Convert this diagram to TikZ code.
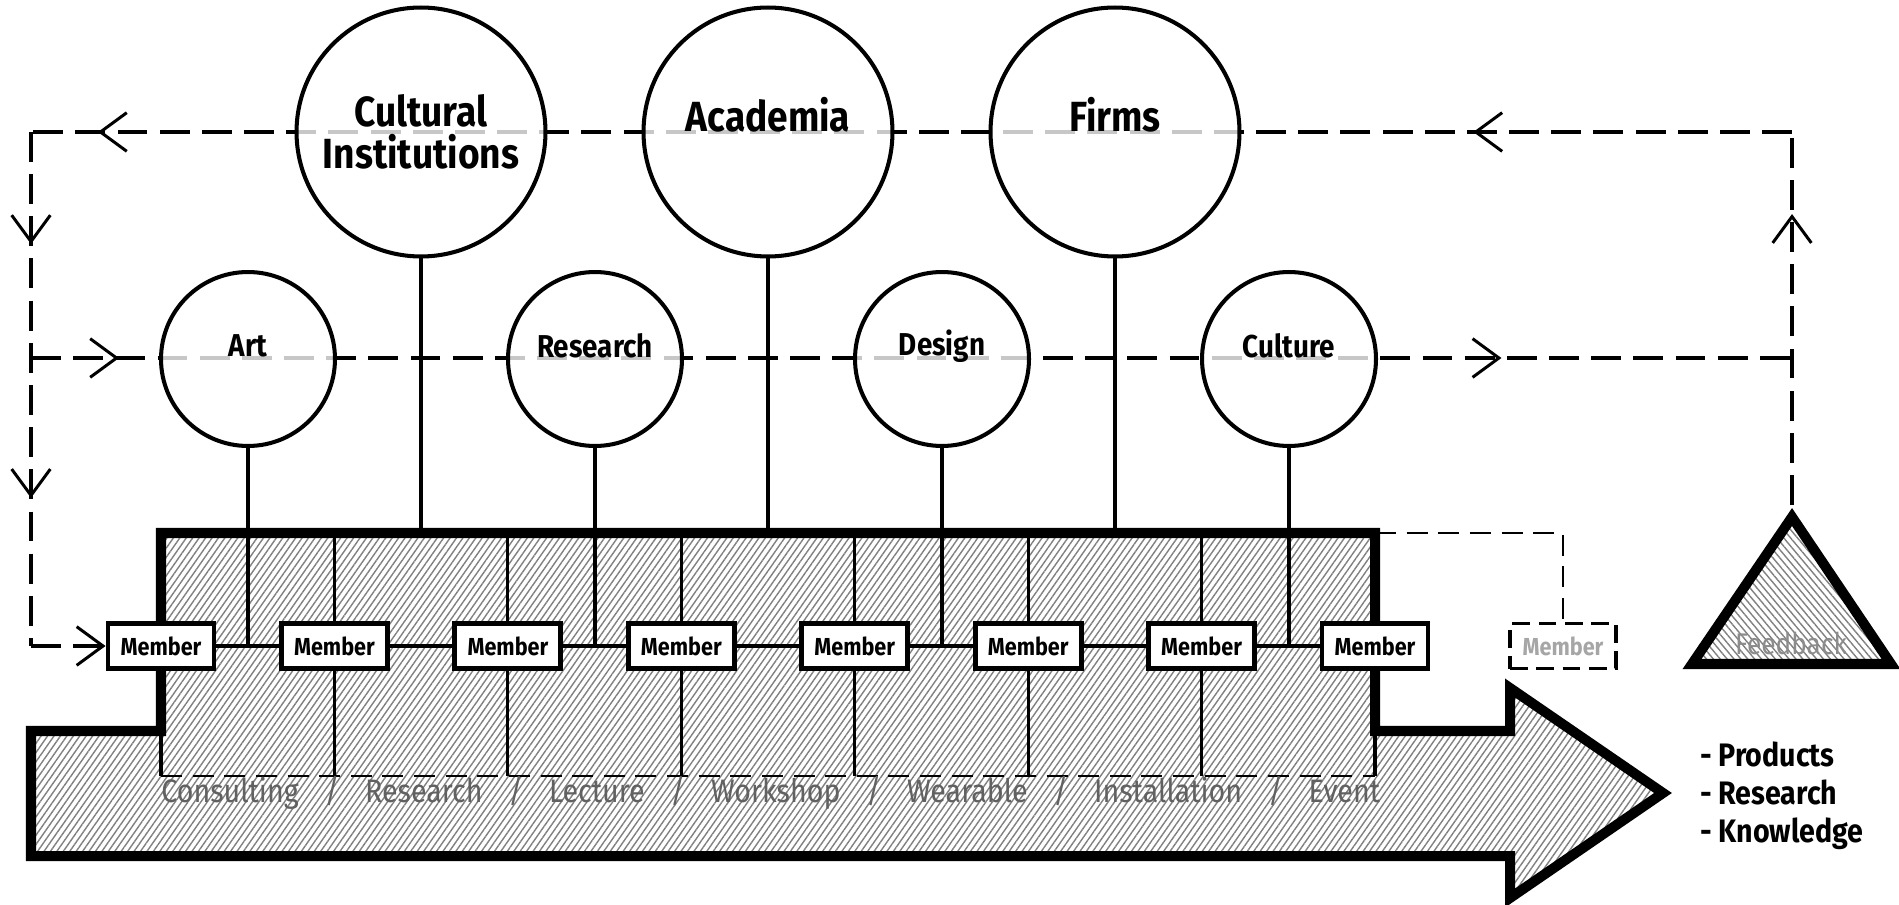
\documentclass[tikz,border=0pt]{standalone}
\usepackage{fontspec}
\usepackage{tikz}
\usetikzlibrary{arrows.meta,decorations.markings,patterns.meta}
\newfontfamily\diafont{Fira Sans}[FakeStretch=0.88]

\begin{document}
\begin{tikzpicture}[x=0.02cm, y=-0.02cm,
      >={Straight Barb[length=15pt,width=22pt,line width=1.7pt]},
      hatch/.style={pattern={Lines[angle=55,distance=3pt,line width=0.8pt]}, pattern color=black!50},
      flowline/.style={line width=1.8pt, dash pattern=on 17pt off 7pt},
      flowtip/.style={postaction={decorate, decoration={markings, mark=at position #1 with {\arrow{>}}}}},
      bigcirc/.style={circle, draw, line width=2.3pt, fill=white, fill opacity=0.78, minimum size=4.98cm, inner sep=0pt},
      smallcirc/.style={circle, draw, line width=2.3pt, fill=white, fill opacity=0.78, minimum size=3.48cm, inner sep=0pt},
      biglabel/.style={font=\diafont\bfseries\fontsize{24}{24}\selectfont, align=center, fill opacity=1, text opacity=1},
      smalllabel/.style={font=\diafont\bfseries\fontsize{18}{20}\selectfont, fill opacity=1, text opacity=1},
      memberbox/.style={draw, line width=2.8pt, fill=white, minimum width=2.12cm, minimum height=0.9cm, inner sep=0pt, font=\diafont\bfseries\fontsize{14}{15}\selectfont},
      stem/.style={line width=1.8pt},
      linkline/.style={line width=2.4pt}]
      \useasboundingbox (0,0) rectangle (1899,905);

      \draw [line width=5.7pt, hatch, line join=miter] (31,731) -- (161,731) -- (161,533) -- (1375,533) -- (1375,731) -- (1510,731) -- (1510,688) -- (1663,793) -- (1510,898) -- (1510,856) -- (31,856) -- cycle;
      \coordinate (boxtl) at (161,533);
      \coordinate (boxtr) at (1375,533);
      \coordinate (boxbl) at (161,776);
      \coordinate (boxbr) at (1375,776);
      \draw [line width=2pt] (161,731) -- (boxbl);
      \draw [line width=2pt] (1375,731) -- (boxbr);
      \draw [line width=1.4pt, dash pattern=on 12pt off 6pt] (boxbl) -- (boxbr);

      \coordinate (tl) at (31,132);
      \coordinate (tr) at (1792,132);
      \coordinate (ml) at (31,358);
      \coordinate (mr) at (1792,358);
      \coordinate (bl) at (31,646);
      \coordinate (fbtop) at (1792,505);
      \draw [flowline, flowtip=0.181, flowtip=0.962] (tr) -- (tl);
      \draw [flowline, flowtip=0.218, flowtip=0.712] (tl) -- (bl);
      \draw [flowline, flowtip=0.05, flowtip=0.835] (ml) -- (mr);
      \draw [flowline, flowtip=0.78] (fbtop) -- (tr);

      \node [bigcirc, label={[biglabel]center:{Cultural\\Institutions}}] (cult) at (421,132) {};
      \node [bigcirc, label={[biglabel, yshift=0.34cm]center:Academia}] (acad) at (768,132) {};
      \node [bigcirc, label={[biglabel, yshift=0.34cm]center:Firms}] (firms) at (1115,132) {};
      \node [smallcirc, label={[smalllabel, yshift=0.26cm]center:Art}] (art) at (248,359) {};
      \node [smallcirc, label={[smalllabel, yshift=0.26cm]center:Research}] (res) at (595,359) {};
      \node [smallcirc, label={[smalllabel, yshift=0.26cm]center:Design}] (design) at (942,359) {};
      \node [smallcirc, label={[smalllabel, yshift=0.26cm]center:Culture}] (culture) at (1289,359) {};

      \node [memberbox] (m0) at (161,646) {Member};
      \node [memberbox] (m1) at (334.4,646) {Member};
      \node [memberbox] (m2) at (507.9,646) {Member};
      \node [memberbox] (m3) at (681.3,646) {Member};
      \node [memberbox] (m4) at (854.7,646) {Member};
      \node [memberbox] (m5) at (1028.2,646) {Member};
      \node [memberbox] (m6) at (1201.6,646) {Member};
      \node [memberbox] (m7) at (1375,646) {Member};
      \node [memberbox, line width=1.8pt, dash pattern=on 10pt off 5pt, text=black!35] (m8) at (1563,646) {Member};

      \draw [flowline, ->] (bl) -- (m0.west);
      \draw [line width=1.6pt, dash pattern=on 12pt off 6pt] (boxtr) -| (m8.north);

      \draw [linkline] (m0.east) -- (m1.west);
      \draw [linkline] (m1.east) -- (m2.west);
      \draw [linkline] (m2.east) -- (m3.west);
      \draw [linkline] (m3.east) -- (m4.west);
      \draw [linkline] (m4.east) -- (m5.west);
      \draw [linkline] (m5.east) -- (m6.west);
      \draw [linkline] (m6.east) -- (m7.west);

      \draw [stem] (m1.north) -- (m1.north |- boxtl);
      \draw [stem] (m1.south) -- (m1.south |- boxbl);
      \draw [stem] (m2.north) -- (m2.north |- boxtl);
      \draw [stem] (m2.south) -- (m2.south |- boxbl);
      \draw [stem] (m3.north) -- (m3.north |- boxtl);
      \draw [stem] (m3.south) -- (m3.south |- boxbl);
      \draw [stem] (m4.north) -- (m4.north |- boxtl);
      \draw [stem] (m4.south) -- (m4.south |- boxbl);
      \draw [stem] (m5.north) -- (m5.north |- boxtl);
      \draw [stem] (m5.south) -- (m5.south |- boxbl);
      \draw [stem] (m6.north) -- (m6.north |- boxtl);
      \draw [stem] (m6.south) -- (m6.south |- boxbl);

      \draw [stem] (cult.south) -- (cult.south |- boxtl);
      \draw [stem] (acad.south) -- (acad.south |- boxtl);
      \draw [stem] (firms.south) -- (firms.south |- boxtl);
      \draw [stem] (art.south) -- (art.south |- m0.center);
      \draw [stem] (res.south) -- (res.south |- m0.center);
      \draw [stem] (design.south) -- (design.south |- m0.center);
      \draw [stem] (culture.south) -- (culture.south |- m0.center);

      \draw [line width=5.7pt, line join=miter, pattern={Lines[angle=-50,distance=3pt,line width=0.8pt]}, pattern color=black!50] (1792,517) -- (1891,664) -- (1692,664) -- cycle;
      \node [font=\diafont\fontsize{17}{19}\selectfont, text=black!45] (fb) at (1791,643) {Feedback};

      \node [anchor=west, inner sep=0pt, font=\diafont\fontsize{18.5}{20}\selectfont, text=black!62] (kinds) at (161,793) {\makebox[24.38cm][s]{Consulting\hfill/\hfill Research\hfill/\hfill Lecture\hfill/\hfill Workshop\hfill/\hfill Wearable\hfill/\hfill Installation\hfill/\hfill Event}};
      \node [anchor=west, align=left, font=\diafont\bfseries\fontsize{18.5}{21.6}\selectfont] (outcome) at (1694,796) {- Products\\- Research\\- Knowledge};
\end{tikzpicture}
\end{document}
